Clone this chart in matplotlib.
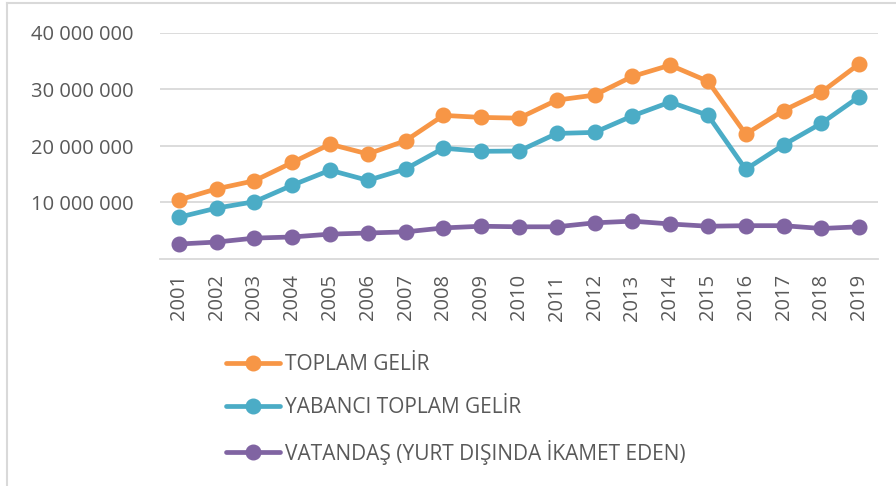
import matplotlib.pyplot as plt
from matplotlib.lines import Line2D

# years and values (from the chart, in units)
years = [str(y) for y in range(2001, 2020)]
toplam = [10450000, 12420000, 13850000, 17080000, 20320000, 18590000, 20940000,
          25420000, 25060000, 24930000, 28120000, 29010000, 32310000, 34310000,
          31460000, 22110000, 26280000, 29510000, 34520000]
yabanci = [7390000, 9010000, 10140000, 13060000, 15720000, 13920000, 15940000,
           19610000, 19060000, 19110000, 22220000, 22410000, 25320000, 27780000,
           25440000, 15870000, 20200000, 24010000, 28710000]
vatandas = [2650000, 3000000, 3700000, 3900000, 4400000, 4600000, 4800000,
            5500000, 5800000, 5700000, 5700000, 6400000, 6700000, 6200000,
            5800000, 5900000, 5900000, 5400000, 5700000]
labels = ['TOPLAM GELİR', 'YABANCI TOPLAM GELİR', 'VATANDAŞ (YURT DIŞINDA İKAMET EDEN)']
colors = ['#F79646', '#4BACC6', '#8064A2']
yticks = [10000000, 20000000, 30000000, 40000000]

plt.rcParams['font.family'] = ['Open Sans', 'DejaVu Sans']

fig = plt.figure(figsize=(8.96, 4.86), dpi=100)
ax = fig.add_axes([160 / 896, 1 - 259 / 486, 718 / 896, 226 / 486])

x = list(range(len(years)))
handles = []
for vals, c, lab in zip([toplam, yabanci, vatandas], colors, labels):
    h, = ax.plot(x, vals, color=c, lw=3.4, marker='o', ms=10.5, label=lab,
                 solid_capstyle='round', zorder=3)
    handles.append(h)

ax.set_xlim(-0.5, len(years) - 0.5)
ax.set_ylim(0, 40000000)
ax.set_yticks(yticks)
ax.set_yticklabels(['{:,}'.format(v).replace(',', ' ') for v in yticks])
ax.set_xticks(x)
ax.set_xticklabels(years, rotation=90)
ax.grid(axis='y', color='#D9D9D9', lw=1.3)
ax.set_axisbelow(True)
for s in ['top', 'right', 'left']:
    ax.spines[s].set_visible(False)
ax.spines['bottom'].set_color('#D9D9D9')
ax.spines['bottom'].set_linewidth(1.3)
ax.tick_params(axis='both', length=0, colors='#595959', labelsize=14.5)
ax.tick_params(axis='y', pad=19)
ax.tick_params(axis='x', pad=11)

fig.legend(handles=handles, loc='upper left', bbox_to_anchor=(226 / 896, 1 - 354 / 486),
           frameon=False, fontsize=15, labelcolor='#595959', handlelength=2.6,
           handletextpad=0.25, labelspacing=1.05, borderpad=0, borderaxespad=0)

# outer chart frame (left and top visible)
fig.add_artist(Line2D([7 / 896, 7 / 896], [0, 1 - 3 / 486], color='#D9D9D9', lw=1.5,
                      transform=fig.transFigure))
fig.add_artist(Line2D([7 / 896, 1], [1 - 3 / 486, 1 - 3 / 486], color='#D9D9D9', lw=1.5,
                      transform=fig.transFigure))

fig.savefig('out.png', dpi=100)
